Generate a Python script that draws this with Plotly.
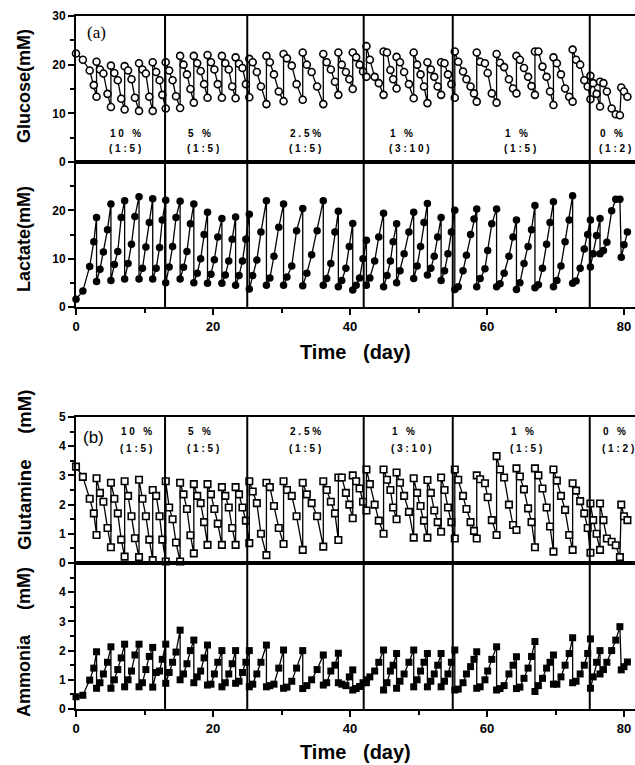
import plotly.graph_objects as go

# sampling days (pre-feed and post-feed samples share the same day)
days = [
    0, 1, 2, 2.6, 3.0,
    3.0, 3.5, 4.0, 4.6, 5.1,
    5.1, 5.6, 6.1, 6.6, 7.1,
    7.1, 7.6, 8.1, 8.6, 9.2,
    9.2, 9.7, 10.2, 10.7, 11.2,
    11.2, 11.7, 12.2, 12.6, 13.1,
    13.1, 13.6, 14.1, 14.6, 15.2,
    15.2, 15.7, 16.2, 16.7, 17.2,
    17.2, 17.7, 18.2, 18.7, 19.2,
    19.2, 19.7, 20.2, 20.7, 21.3,
    21.3, 21.8, 22.3, 22.8, 23.3,
    23.3, 23.8, 24.3, 24.8, 25.3,
    25.3, 25.8, 26.4, 27.0, 27.8,
    27.8, 28.3, 28.9, 29.6, 30.3,
    30.3, 30.8, 31.5, 32.2, 33.1,
    33.1, 33.7, 34.4, 35.2, 36.1,
    36.1, 36.6, 37.2, 37.8, 38.3,
    38.3, 38.8, 39.4, 39.9, 40.4,
    40.4, 40.9, 41.4, 41.9, 42.4,
    42.4, 42.9, 43.6, 44.2, 44.9,
    44.9, 45.4, 45.9, 46.3, 46.8,
    46.8, 47.3, 47.9, 48.6, 49.3,
    49.3, 49.8, 50.3, 50.8, 51.3,
    51.3, 51.8, 52.3, 52.8, 53.3,
    53.3, 53.8, 54.3, 54.8, 55.3,
    55.3, 55.8, 56.5, 57.0, 57.6, 58.1, 58.5,
    58.5, 59.0, 59.7, 60.1, 60.7, 61.4,
    61.4, 61.9, 62.5, 63.2, 63.8, 64.3,
    64.3, 64.8, 65.4, 66.0, 66.5, 67.0,
    67.0, 67.5, 68.1, 68.7, 69.2, 69.7,
    69.7, 70.2, 70.8, 71.4, 72.0, 72.5,
    72.5, 73.0, 73.6, 74.2, 74.7, 75.1,
    75.1, 75.5, 76.0, 76.5,
    76.5, 77.0, 77.5, 78.2, 78.8, 79.4,
    79.6, 80.0, 80.5,
]

glucose = [
    22.3, 21.0, 18.8, 15.8, 13.4,
    20.6, 19.0, 18.2, 14.0, 11.3,
    19.8, 18.3, 16.8, 13.0, 10.8,
    19.7, 18.8, 17.0, 13.2, 10.5,
    20.3, 19.0, 18.2, 13.4, 10.5,
    20.5, 18.5, 16.8, 13.8, 11.0,
    20.5, 18.8, 16.8, 13.5, 11.1,
    21.8, 20.0, 18.0, 15.0, 12.2,
    21.8, 20.3, 18.7, 16.0, 13.2,
    22.0, 20.5, 19.0, 16.0, 13.2,
    21.8, 20.3, 19.0, 15.5, 13.1,
    21.5, 20.2, 19.3, 16.0, 13.3,
    21.2, 20.5, 18.5, 15.5, 11.9,
    21.8, 20.5, 18.0, 14.5, 12.5,
    22.2, 21.3, 19.8, 16.0, 12.8,
    22.5, 20.0, 18.5, 15.5, 11.9,
    22.2, 20.5, 19.0, 16.5, 13.8,
    22.5, 20.0, 18.5, 17.0, 15.0,
    22.5, 21.5, 20.0, 18.6, 17.5,
    23.8, 21.0, 17.5, 16.2, 13.8,
    22.7, 22.5, 18.9, 17.0, 15.1,
    21.6, 20.5, 18.5, 16.0, 13.1,
    22.5, 20.0, 18.0, 15.5, 12.1,
    20.5, 19.0, 17.5, 15.5, 13.8,
    20.5, 20.3, 18.0, 16.0, 13.2,
    22.7, 20.6, 18.6, 17.0, 15.5, 14.1, 12.4,
    22.5, 20.6, 20.3, 18.3, 14.1, 12.2,
    22.2, 20.4, 19.5, 17.0, 15.1, 14.1,
    21.8, 21.0, 19.3, 17.5, 15.6, 13.8,
    22.7, 22.7, 19.6, 17.5, 14.5, 11.7,
    21.5, 20.3, 18.0, 15.1, 13.4, 12.4,
    23.1, 21.0, 20.0, 16.8, 15.5, 12.9,
    17.7, 16.2, 14.0, 11.4,
    16.5, 16.2, 14.5, 11.0, 9.8, 9.6,
    15.3, 14.5, 13.4,
]

lactate = [
    1.6, 3.3, 8.4, 13.5, 18.5,
    5.3, 7.8, 11.4, 16.0, 21.3,
    5.5, 8.8, 11.5, 18.5, 22.0,
    5.8, 9.0, 13.0, 18.7, 22.8,
    5.8, 8.0, 12.4, 17.5, 22.4,
    5.8, 8.0, 12.3, 18.0, 22.1,
    5.0, 8.3, 12.5, 18.5, 21.9,
    5.8, 8.2, 11.5, 17.2, 21.3,
    5.0, 7.0, 10.0, 15.0, 19.6,
    4.9, 6.8, 9.8, 14.5, 18.3,
    4.9, 6.6, 9.5, 14.0, 18.6,
    4.5, 6.5, 9.5, 14.0, 19.2,
    3.7, 6.5, 9.7, 15.5, 22.0,
    4.5, 6.0, 10.5, 16.5, 21.3,
    4.5, 6.2, 8.5, 15.8, 20.4,
    4.4, 7.0, 10.8, 15.8, 22.0,
    4.5, 5.9, 9.0, 15.5, 19.8,
    4.2, 5.5, 8.0, 12.5, 17.3,
    3.5, 4.5, 6.0, 10.0, 13.8,
    4.5, 6.0, 9.5, 14.5, 19.4,
    4.2, 6.5, 9.5, 13.5, 17.2,
    5.0, 7.5, 11.0, 15.5, 19.6,
    5.9, 8.5, 12.5, 17.5, 21.4,
    6.6, 8.0, 10.5, 14.5, 18.5,
    5.5, 7.5, 11.0, 15.5, 20.0,
    3.6, 4.2, 7.5, 10.7, 15.0, 18.2, 20.3,
    4.2, 5.9, 7.9, 11.7, 17.2, 20.3,
    4.2, 4.8, 7.0, 10.5, 14.5, 18.0,
    3.6, 5.0, 9.0, 12.5, 16.0, 21.0,
    4.0, 4.6, 8.0, 13.0, 17.5, 21.8,
    4.2, 5.5, 8.5, 13.5, 18.0, 23.0,
    4.9, 5.4, 8.0, 12.0, 15.0, 18.0,
    8.3, 11.0, 14.8, 18.3,
    11.0, 11.7, 13.4, 19.9, 22.3, 22.3,
    10.3, 12.9, 15.5,
]

glutamine = [
    3.3, 2.95, 2.2, 1.7, 0.96,
    2.9, 2.4, 2.1, 1.2, 0.54,
    2.75, 2.2, 1.7, 0.8, 0.22,
    2.8, 2.3, 1.6, 0.85, 0.2,
    2.85, 2.2, 1.6, 0.8, 0.1,
    2.5, 2.3, 1.6, 0.8, 0.05,
    2.8, 1.9, 1.5, 0.7, 0.05,
    2.75, 2.35, 1.85, 0.95, 0.33,
    2.7, 2.3, 2.05, 1.4, 0.62,
    2.7, 2.35, 1.85, 1.35, 0.62,
    2.6, 2.3, 1.9, 1.2, 0.62,
    2.6, 2.35, 1.9, 1.45, 0.68,
    2.8, 2.45, 2.05, 1.0, 0.27,
    2.75, 2.6, 1.95, 1.2, 0.65,
    2.8, 2.5, 2.3, 1.6, 0.45,
    2.75, 2.35, 2.05, 1.6, 0.56,
    2.8, 2.5, 2.1, 1.7, 0.79,
    2.93, 2.93, 2.4, 2.0, 1.53,
    3.0, 2.8, 2.55, 2.1, 1.8,
    3.2, 2.7, 2.0, 1.45, 1.0,
    3.2, 2.85, 2.5, 1.9, 1.5,
    3.1, 2.75, 2.3, 1.75, 0.87,
    2.9, 2.4, 1.95, 1.45, 0.87,
    2.84, 2.4, 1.8, 1.4, 1.07,
    2.93, 2.5, 1.9, 1.4, 0.84,
    3.2, 2.85, 2.3, 1.85, 1.4, 1.1, 0.84,
    3.0, 2.87, 2.73, 2.25, 1.47, 0.96,
    3.66, 3.2, 2.93, 2.0, 1.3, 1.13,
    3.24, 2.96, 2.52, 1.87, 1.4, 0.54,
    3.24, 3.0, 2.55, 1.9, 1.25, 0.39,
    3.2, 2.82, 2.3, 1.82, 0.96, 0.45,
    2.73, 2.48, 2.12, 1.7, 1.2, 0.35,
    2.04, 1.47, 1.0, 0.45,
    2.04, 1.47, 0.84, 0.73, 0.61, 0.2,
    2.0, 1.6, 1.47,
]

ammonia = [
    0.42, 0.47, 0.99, 1.4, 1.96,
    0.71, 0.9, 1.2, 1.6, 2.13,
    0.71, 1.0, 1.35, 1.75, 2.22,
    0.76, 1.0, 1.3, 1.85, 2.22,
    0.76, 0.9, 1.35, 1.8, 2.11,
    0.75, 1.25, 1.3, 1.7, 2.22,
    0.88, 1.25, 1.6, 1.95, 2.7,
    1.0, 1.2, 1.55, 2.0, 2.36,
    0.9, 1.1, 1.3, 1.75, 2.19,
    0.82, 0.85, 1.2, 1.6, 2.0,
    0.76, 0.9, 1.2, 1.55, 2.0,
    0.88, 0.95, 1.25, 1.6, 2.0,
    0.76, 0.85, 1.2, 1.6, 2.19,
    0.76, 0.8, 0.85, 1.4, 2.02,
    0.71, 0.75, 0.95, 1.4, 2.0,
    0.7, 0.8, 1.0, 1.35, 1.85,
    0.82, 0.9, 1.3, 1.5, 1.91,
    0.9, 0.85, 0.8, 1.1, 1.34,
    0.65, 0.7, 0.77, 0.9, 1.0,
    0.9, 1.1, 1.3, 1.6, 2.02,
    0.65, 0.9, 1.3, 1.5, 1.9,
    0.71, 0.95, 1.2, 1.6, 2.02,
    0.76, 1.0, 1.3, 1.6, 1.9,
    0.76, 0.95, 1.2, 1.5, 1.9,
    0.76, 0.95, 1.2, 1.6, 2.02,
    0.65, 0.68, 0.9, 1.2, 1.45, 1.7, 1.96,
    0.71, 0.76, 1.0, 1.3, 1.7, 2.13,
    0.65, 0.7, 0.8, 1.2, 1.5, 1.79,
    0.7, 0.75, 1.05, 1.4, 1.8, 2.31,
    0.6, 0.8, 1.05, 1.4, 1.6, 1.85,
    0.85, 0.85, 1.1, 1.5, 1.9, 2.44,
    0.9, 0.95, 1.2, 1.5, 1.9, 2.4,
    0.71, 1.1, 1.6, 2.0,
    1.2, 1.35, 1.6, 2.0, 2.36, 2.82,
    1.34, 1.45, 1.61,
]

# phase boundaries (days) and phase labels
phase_days = [13, 25, 42, 55, 75]
phase_pct = ["10 %", "5 %", "2.5%", "1 %", "1 %", "0 %"]
phase_ratio = ["(1:5)", "(1:5)", "(1:5)", "(3:10)", "(1:5)", "(1:2)"]

W, H = 635, 765
NB = "\u00a0"


def px(x):
    return x / W


def py(y):
    return 1 - y / H


def spaced(s):
    # letter-spaced label text (non-breaking spaces so they are kept)
    return NB.join(ch if ch != " " else NB for ch in s)


X0, X1 = 76, 635
xmax = (X1 - X0) / 6.85
dom_x = [px(X0), 1.0]
dom = {
    "glc": [py(162), py(16)],
    "lac": [py(307), py(162)],
    "gln": [py(563), py(417)],
    "nh3": [py(709), py(563)],
}

fig = go.Figure()
line = dict(color="black", width=1.3)
fig.add_trace(go.Scatter(x=days, y=glucose, mode="lines+markers", line=line, cliponaxis=False,
                         marker=dict(symbol="circle", size=7, color="white", line=dict(color="black", width=1.6)),
                         xaxis="x", yaxis="y", showlegend=False))
fig.add_trace(go.Scatter(x=days, y=lactate, mode="lines+markers", line=line, cliponaxis=False,
                         marker=dict(symbol="circle", size=7.5, color="black"),
                         xaxis="x2", yaxis="y2", showlegend=False))
fig.add_trace(go.Scatter(x=days, y=glutamine, mode="lines+markers", line=line, cliponaxis=False,
                         marker=dict(symbol="square", size=6.5, color="white", line=dict(color="black", width=1.6)),
                         xaxis="x3", yaxis="y3", showlegend=False))
fig.add_trace(go.Scatter(x=days, y=ammonia, mode="lines+markers", line=line, cliponaxis=False,
                         marker=dict(symbol="square", size=7, color="black"),
                         xaxis="x4", yaxis="y4", showlegend=False))

tickfont = dict(family="Liberation Sans, Arial, sans-serif", size=12, color="black", weight="bold")
axis_common = dict(showline=True, linewidth=2, linecolor="black", mirror=True, automargin=False,
                   showgrid=False, zeroline=False, tickfont=tickfont, tickcolor="black")


def xaxis(anchor, labels):
    d = dict(axis_common, domain=dom_x, range=[0, xmax], anchor=anchor)
    if labels:
        d.update(tickmode="array", tickvals=[0, 20, 40, 60, 80], ticks="outside",
                 ticklen=6, tickwidth=2,
                 minor=dict(tickmode="linear", tick0=0, dtick=10, ticks="outside", ticklen=4,
                            tickwidth=1.5, tickcolor="black"),
                 tickfont=dict(tickfont, size=13))
    else:
        d.update(showticklabels=False, ticks="")
    return d


def yaxis(anchor, domain, rng, vals, minor_dtick):
    return dict(axis_common, domain=domain, range=rng, anchor=anchor,
                tickmode="array", tickvals=vals, ticks="outside", ticklen=6, tickwidth=2,
                minor=dict(tickmode="linear", tick0=0, dtick=minor_dtick, ticks="outside",
                           ticklen=4, tickwidth=1.5, tickcolor="black"))


fig.update_layout(
    width=W, height=H, margin=dict(l=0, r=0, t=0, b=0, autoexpand=False),
    paper_bgcolor="white", plot_bgcolor="white",
    xaxis=xaxis("y", False),
    xaxis2=xaxis("y2", True),
    xaxis3=xaxis("y3", False),
    xaxis4=xaxis("y4", True),
    yaxis=yaxis("x", dom["glc"], [0, 30], [0, 10, 20, 30], 5),
    yaxis2=yaxis("x2", dom["lac"], [0, 30], [0, 10, 20], 5),
    yaxis3=yaxis("x3", dom["gln"], [0, 5], [0, 1, 2, 3, 4, 5], 0.5),
    yaxis4=yaxis("x4", dom["nh3"], [0, 5], [0, 1, 2, 3, 4], 0.5),
)

# phase separators spanning both panels of each figure part
for d in phase_days:
    for xr, y0, y1 in [("x", dom["lac"][0], dom["glc"][1]), ("x3", dom["nh3"][0], dom["gln"][1])]:
        fig.add_shape(type="line", xref=xr, yref="paper", x0=d, x1=d, y0=y0, y1=y1,
                      line=dict(color="black", width=2))

lab_font = dict(family="Liberation Sans, Arial, sans-serif", size=10, color="black", weight="bold")
left_a = [107, 185, 287, 387, 502, 597]
left_b = [118, 185, 287, 389, 508, 600]
for i in range(6):
    for lefts, y1, y2 in [(left_a, 133, 149), (left_b, 431, 448)]:
        fig.add_annotation(text=spaced(phase_pct[i]), xref="paper", yref="paper", x=px(lefts[i] + 1), y=py(y1),
                           xanchor="left", yanchor="middle", showarrow=False, font=lab_font)
        fig.add_annotation(text=spaced(phase_ratio[i]), xref="paper", yref="paper", x=px(lefts[i]), y=py(y2),
                           xanchor="left", yanchor="middle", showarrow=False, font=lab_font)

title_font = dict(family="Liberation Sans, Arial, sans-serif", color="black", weight="bold")
ytitles = [
    ("Glucose(mM)", 86, 18),
    ("Lactate(mM)", 239, 18),
    ("Glutamine" + NB * 5 + "(mM)", 470, 18.5),
    ("Ammonia" + NB * 5 + "(mM)", 642, 18),
]
for txt, yc, sz in ytitles:
    fig.add_annotation(text=txt, xref="paper", yref="paper", x=px(24), y=py(yc), textangle=-90,
                       xanchor="center", yanchor="middle", showarrow=False, font=dict(title_font, size=sz))

for yc in [352, 752]:
    fig.add_annotation(text="Time" + NB * 3 + "(day)", xref="paper", yref="paper", x=px(355), y=py(yc),
                       xanchor="center", yanchor="middle", showarrow=False, font=dict(title_font, size=20))

fig.add_annotation(text="(a)", xref="paper", yref="paper", x=px(96), y=py(33), xanchor="center", yanchor="middle",
                   showarrow=False, font=dict(family="Liberation Serif, Times New Roman, serif", size=17, color="black"))
fig.add_annotation(text="(b)", xref="paper", yref="paper", x=px(93), y=py(437), xanchor="center", yanchor="middle",
                   showarrow=False, font=dict(family="Liberation Sans, Arial, sans-serif", size=17, color="black"))

fig.write_html("out.html")
